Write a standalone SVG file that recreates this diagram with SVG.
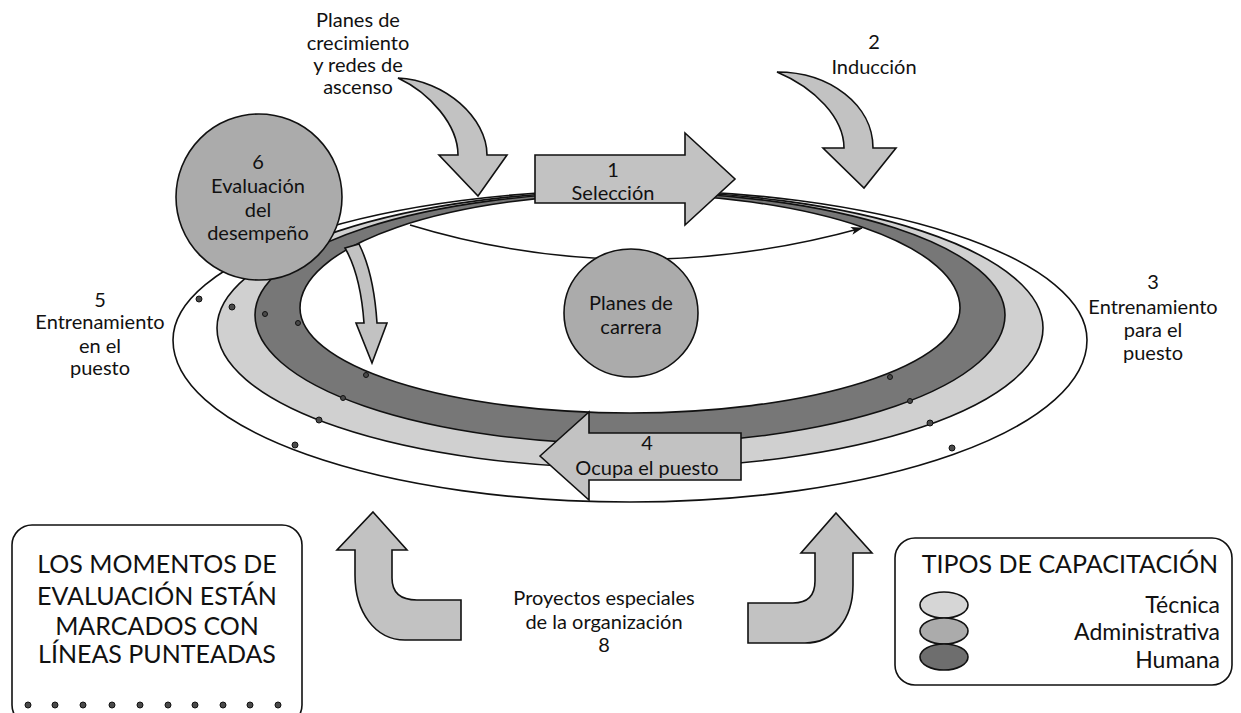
<svg xmlns="http://www.w3.org/2000/svg" width="1241" height="713" viewBox="0 0 1241 713">
  <style>
    .lbl { font-family: "Lato", "Open Sans", "Liberation Sans", sans-serif; font-size: 20px; fill: #111; text-anchor: middle; }
    .cap { font-family: "Lato", "Open Sans", "Liberation Sans", sans-serif; font-size: 25px; fill: #111; text-anchor: middle; }
    .leg { font-family: "Lato", "Open Sans", "Liberation Sans", sans-serif; font-size: 23px; fill: #111; text-anchor: end; }
    .edge { stroke: #111; stroke-width: 1.6; stroke-linejoin: round; }
    .block { fill: #c2c2c2; stroke: #111; stroke-width: 1.6; stroke-linejoin: miter; }
    .disc { fill: #ababab; stroke: #111; stroke-width: 1.6; }
    .dot { fill: #4a4a4a; stroke: #111; stroke-width: 1; }
    .box { fill: none; stroke: #111; stroke-width: 1.6; }
  </style>
  <defs>
    <marker id="tip" markerWidth="12" markerHeight="10" refX="11" refY="5" orient="auto" markerUnits="userSpaceOnUse">
      <path d="M0,1 L12,5 L0,9 L3,5 Z" fill="#111"/>
    </marker>
  </defs>

  <rect width="1241" height="713" fill="#fff"/>

  <!-- training ring: outer white band, technical band, human band, inner hole -->
  <g id="ring">
    <path class="edge" fill="#fff" d="M173,340 A457,150 0 0 1 1087,340 A457,162 0 0 1 173,340 Z"/>
    <path class="edge" fill="#d0d0d0" d="M217,328 A413,137 0 0 1 1043,328 A413,140 0 0 1 217,328 Z"/>
    <path class="edge" fill="#777" d="M255,315 A375,123 0 0 1 1005,315 A375,129 0 0 1 255,315 Z"/>
    <path class="edge" fill="#fff" d="M300,308 A330,114 0 0 1 960,308 A330,105 0 0 1 300,308 Z"/>
  </g>

  <!-- evaluation moments -->
  <g id="eval-dots">
    <circle class="dot" cx="199" cy="299" r="3"/>
    <circle class="dot" cx="232" cy="307" r="3"/>
    <circle class="dot" cx="265" cy="314" r="2.5"/>
    <circle class="dot" cx="298" cy="323" r="2.5"/>
    <circle class="dot" cx="295" cy="445" r="3"/>
    <circle class="dot" cx="319" cy="420" r="3"/>
    <circle class="dot" cx="343" cy="398" r="2.5"/>
    <circle class="dot" cx="366" cy="375" r="2.5"/>
    <circle class="dot" cx="952" cy="448" r="3"/>
    <circle class="dot" cx="930" cy="423" r="3"/>
    <circle class="dot" cx="910" cy="401" r="2.5"/>
    <circle class="dot" cx="890" cy="377" r="2.5"/>
  </g>

  <g id="connectors">
    <path d="M410,225 Q630,292 862,228" fill="none" stroke="#111" stroke-width="1.5" marker-end="url(#tip)"/>
  </g>

  <!-- 6: performance evaluation feeding back into the ring -->
  <g id="node-evaluacion-arrow">
    <path class="block" d="M345,248 C356,267 362,295 364,323 L356,323 L372,363 L387,323 L377,323 C375,292 370,266 359,244 Z"/>
  </g>

  <g id="node-evaluacion">
    <circle class="disc" cx="259" cy="197" r="83"/>
    <text class="lbl" x="258" y="169">6</text>
    <text class="lbl" x="258" y="193">Evaluación</text>
    <text class="lbl" x="258" y="217">del</text>
    <text class="lbl" x="258" y="240">desempeño</text>
  </g>

  <g id="node-planes-crecimiento">
    <text class="lbl" x="358" y="27">Planes de</text>
    <text class="lbl" x="358" y="50">crecimiento</text>
    <text class="lbl" x="358" y="72">y redes de</text>
    <text class="lbl" x="358" y="94">ascenso</text>
    <path class="block" d="M398,78 C445,80 487,118 487,155 L507,155 L478,196 L439,155 L458,155 C458,125 430,93 398,78 Z"/>
  </g>

  <g id="node-seleccion">
    <path class="block" d="M535,155 L685,155 L685,133 L735,179 L685,225 L685,203 L535,203 Z"/>
    <text class="lbl" x="613" y="177">1</text>
    <text class="lbl" x="613" y="200">Selección</text>
  </g>

  <g id="node-induccion">
    <text class="lbl" x="874" y="49">2</text>
    <text class="lbl" x="874" y="74">Inducción</text>
    <path class="block" d="M777,72 C830,72 873,105 873,148 L896,148 L864,188 L823,148 L844,148 C844,118 815,88 777,72 Z"/>
  </g>

  <g id="node-entrenamiento-puesto">
    <text class="lbl" x="1153" y="289">3</text>
    <text class="lbl" x="1153" y="314">Entrenamiento</text>
    <text class="lbl" x="1153" y="337">para el</text>
    <text class="lbl" x="1153" y="360">puesto</text>
  </g>

  <g id="node-ocupa">
    <path class="block" d="M540,456 L589,412 L589,433 L741,433 L741,480 L589,480 L589,500 Z"/>
    <text class="lbl" x="647" y="450">4</text>
    <text class="lbl" x="647" y="475">Ocupa el puesto</text>
  </g>

  <g id="node-entrenamiento-en">
    <text class="lbl" x="100" y="307">5</text>
    <text class="lbl" x="100" y="329">Entrenamiento</text>
    <text class="lbl" x="100" y="353">en el</text>
    <text class="lbl" x="100" y="375">puesto</text>
  </g>

  <g id="node-planes-carrera">
    <ellipse class="disc" cx="631" cy="313" rx="67" ry="64"/>
    <text class="lbl" x="631" y="310">Planes de</text>
    <text class="lbl" x="631" y="334">carrera</text>
  </g>

  <!-- 8: special projects, two upturned arrows -->
  <g id="node-proyectos">
    <path class="block" d="M373,512 L407,550 L392,550 L392,578 Q392,600 417,600 L461,600 L461,640 L405,640 C375,640 355,612 355,575 L355,550 L337,550 Z"/>
    <path class="block" d="M836,513 L872,553 L853,553 L853,585 C853,620 833,643 805,643 L748,643 L748,603 L793,603 Q815,603 815,581 L815,553 L801,553 Z"/>
    <text class="lbl" x="604" y="605">Proyectos especiales</text>
    <text class="lbl" x="604" y="629">de la organización</text>
    <text class="lbl" x="604" y="652">8</text>
  </g>

  <g id="note-evaluacion">
    <rect class="box" x="12" y="525" width="290" height="200" rx="20" ry="20"/>
    <text class="cap" x="157" y="573">LOS MOMENTOS DE</text>
    <text class="cap" x="157" y="605">EVALUACIÓN ESTÁN</text>
    <text class="cap" x="157" y="635">MARCADOS CON</text>
    <text class="cap" x="157" y="663">LÍNEAS PUNTEADAS</text>
    <g>
      <circle class="dot" cx="28" cy="705" r="3"/>
      <circle class="dot" cx="55" cy="705" r="3"/>
      <circle class="dot" cx="83" cy="705" r="3"/>
      <circle class="dot" cx="112" cy="705" r="3"/>
      <circle class="dot" cx="140" cy="705" r="3"/>
      <circle class="dot" cx="168" cy="705" r="3"/>
      <circle class="dot" cx="195" cy="705" r="3"/>
      <circle class="dot" cx="223" cy="705" r="3"/>
      <circle class="dot" cx="250" cy="705" r="3"/>
      <circle class="dot" cx="278" cy="705" r="3"/>
    </g>
  </g>

  <g id="legend-tipos">
    <rect class="box" x="895" y="538" width="337" height="147" rx="20" ry="20"/>
    <text class="cap" x="1070" y="573">TIPOS DE CAPACITACIÓN</text>
    <ellipse class="edge" fill="#d6d6d6" cx="944" cy="605" rx="24" ry="13"/>
    <ellipse class="edge" fill="#ababab" cx="944" cy="631" rx="24" ry="13"/>
    <ellipse class="edge" fill="#6e6e6e" cx="944" cy="657" rx="24" ry="13"/>
    <text class="leg" x="1220" y="613">Técnica</text>
    <text class="leg" x="1220" y="640">Administrativa</text>
    <text class="leg" x="1220" y="668">Humana</text>
  </g>
</svg>
